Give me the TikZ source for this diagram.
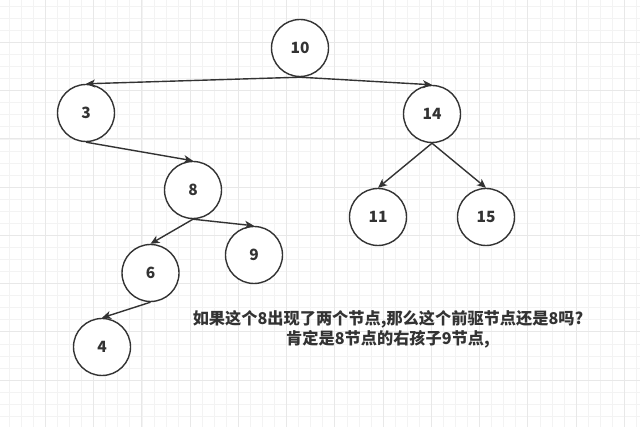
\documentclass[tikz,border=0pt]{standalone}
\usepackage{fontspec}
\newfontfamily\cjk{Noto Sans CJK SC}
\usetikzlibrary{arrows.meta}
\definecolor{ink}{HTML}{333333}
\definecolor{gridminor}{HTML}{F3F3F3}
\definecolor{gridmajor}{HTML}{E8E8E8}
\tikzset{
  tnode/.style={circle,draw=ink,line width=1.4pt,minimum size=57pt,inner sep=0pt,fill=white,
    font=\cjk\bfseries\fontsize{15.5}{18}\selectfont,text=ink},
  edge/.style={draw=ink,line width=1.4pt,-{Stealth[length=9pt,width=8pt,inset=2.5pt]}},
  minorline/.style={draw=gridminor,line width=0.9pt},
  majorline/.style={draw=gridmajor,line width=1pt},
  note/.style={font=\cjk\bfseries\fontsize{16.2}{20}\selectfont,text=ink,align=center,inner sep=0pt}
}
\begin{document}
\begin{tikzpicture}[x=1pt,y=-1pt]
\useasboundingbox[fill=white] (0,0) rectangle (640,427);
% grid
\foreach \i in {-3,...,49} {
  \draw[minorline] ({45.5+12.06*\i},0) -- ++(0,427);
  \draw[minorline] (0,{42.5+12.06*\i}) -- ++(640,0);
}
\foreach \i in {-1,...,12} {
  \draw[majorline] ({45.5+48.24*\i},0) -- ++(0,427);
  \draw[majorline] (0,{42.5+48.24*\i}) -- ++(640,0);
}
% nodes
\node[tnode] (n10) at (300,48) {10};
\node[tnode] (n3) at (86,113) {3};
\node[tnode] (n14) at (432,114) {14};
\node[tnode] (n8) at (193,190) {8};
\node[tnode] (n9) at (254,255) {9};
\node[tnode] (n6) at (150.5,273) {6};
\node[tnode] (n4) at (102,347) {4};
\node[tnode] (n11) at (378,217) {11};
\node[tnode] (n15) at (486,217) {15};
% edges
\draw[edge] (n10.south) -- (n3.north);
\draw[edge] (n10.south) -- (n14.north);
\draw[edge] (n3.south) -- (n8.north);
\draw[edge] (n8.south) -- (n6.north);
\draw[edge] (n8.south) -- (n9.north);
\draw[edge] (n6.south) -- (n4.north);
\draw[edge] (n14.south) -- (n11.north);
\draw[edge] (n14.south) -- (n15.north);
% note
\node[note] (txt) at (388,329) {如果这个8出现了两个节点,那么这个前驱节点还是8吗?\\肯定是8节点的右孩子9节点,};
\end{tikzpicture}
\end{document}
